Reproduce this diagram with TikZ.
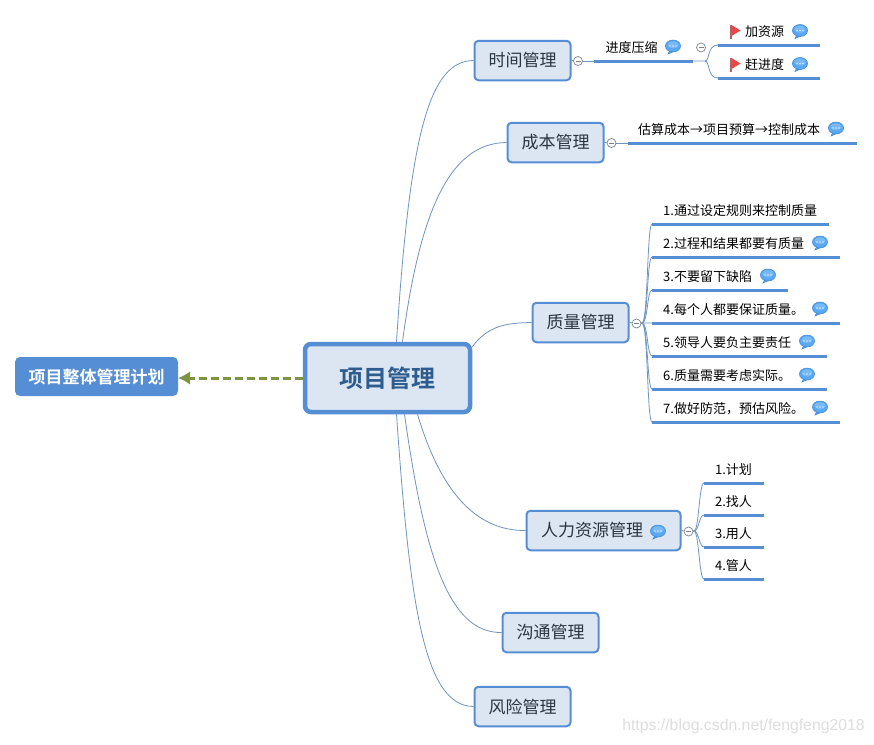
\documentclass[tikz,border=0pt]{standalone}
\usepackage{fontspec}
\setmainfont{Noto Sans CJK SC}[BoldFont={Noto Sans CJK SC Bold}]
\newfontfamily\wmfont{Liberation Sans}
\usetikzlibrary{arrows.meta,backgrounds}
\definecolor{boxfill}{HTML}{DCE6F2}
\definecolor{boxedge}{HTML}{558ED5}
\definecolor{linkc}{HTML}{6F94BE}
\definecolor{inkc}{HTML}{2A3542}
\definecolor{mainink}{HTML}{2F5C8F}
\definecolor{olivec}{HTML}{7F9440}
\definecolor{bubblec}{HTML}{58A8F2}
\definecolor{bubbleedge}{HTML}{3F86D2}
\definecolor{flagc}{HTML}{EE4444}
\tikzset{
  x=1pt,y=-1pt,
  topicbox/.style={draw=boxedge,fill=boxfill,line width=2pt,rounded corners=4pt,inner sep=0pt,
    minimum height=39.5pt,text=inkc,font=\fontsize{17}{20}\selectfont},
  mainbox/.style={draw=boxedge,fill=boxfill,line width=4.5pt,rounded corners=6pt,inner sep=0pt,
    minimum width=165pt,minimum height=68pt,text=mainink,font=\fontsize{24}{28}\selectfont\bfseries},
  planbox/.style={fill=boxedge,rounded corners=5pt,inner sep=0pt,minimum width=163pt,minimum height=39pt,
    text=white,font=\fontsize{17}{20}\selectfont\bfseries},
  leaf/.style={inner sep=0pt,text=black,font=\fontsize{13}{15}\selectfont},
  bar/.style={draw=boxedge,line width=3pt},
  link/.style={draw=linkc,line width=0.8pt},
  fold/.style={circle,draw=gray!75!linkc,fill=white,line width=0.7pt,inner sep=0pt,minimum size=9pt,
    path picture={\draw[gray,line width=0.6pt] ([xshift=-2.5pt]path picture bounding box.center)--([xshift=2.5pt]path picture bounding box.center);}},
  note/.pic={
    \fill[bubblec,draw=bubbleedge,line width=0.5pt] (-3,4) -- (-5,8) -- (1,5.4) -- cycle;
    \fill[bubblec,draw=bubbleedge,line width=0.5pt] (0,0) ellipse [x radius=7.6,y radius=6];
    \fill[bubblec!80!white] (0,-1.2) ellipse [x radius=5.6,y radius=3.6];
    \fill[white!70!bubblec] (-3,0) circle (0.9) (0,0) circle (0.9) (3,0) circle (0.9);
  },
  redflag/.pic={
    \draw[gray!60!flagc,line width=1.2pt] (0,0) -- (0,14);
    \fill[flagc] (0.5,0) -- (9.5,5.5) -- (0.5,11) -- cycle;
  }
}
\begin{document}
\begin{tikzpicture}
\useasboundingbox (0,0) rectangle (874,744);

% main nodes
\node[mainbox] (main) at (387.5,378) {项目管理};
\node[planbox] (plan) at (96.5,376.5) {项目整体管理计划};
\node[topicbox,minimum width=96pt] (time) at (522.5,60.5) {时间管理};
\node[topicbox,minimum width=96pt] (cost) at (555.5,142.5) {成本管理};
\node[topicbox,minimum width=96pt] (qual) at (580.5,322.5) {质量管理};
\node[topicbox,minimum width=154pt,text width=125pt,align=left] (hr) at (603.5,530.5) {人力资源管理};
\node[topicbox,minimum width=96pt] (comm) at (550.5,632.5) {沟通管理};
\node[topicbox,minimum width=96pt] (risk) at (522.5,706.5) {风险管理};

% root connectors
\begin{scope}[on background layer]
\fill[white] (0,0) rectangle (874,744);
\draw[link] ([xshift=9pt]main.north) .. controls (410,130) and (430,61) .. (time.west);
\draw[link] ([xshift=15pt]main.north) .. controls (420,210) and (450,143) .. (cost.west);
\draw[link] ([yshift=-5pt]main.north east) .. controls (488,326) and (505,323) .. (qual.west);
\draw[link] ([xshift=30pt]main.south) .. controls (440,490) and (475,531) .. (hr.west);
\draw[link] ([xshift=17pt]main.south) .. controls (425,560) and (450,633) .. (comm.west);
\draw[link] ([xshift=9pt]main.south) .. controls (410,610) and (425,706) .. (risk.west);
\end{scope}
\draw[olivec,line width=3pt,dash pattern=on 8pt off 4pt,-{Latex[length=12pt,width=14pt]}] (main.west) -- ([yshift=-1.5pt]plan.east);

% time branch
\node[fold] (ft) at (578,61) {};
\coordinate (ps) at (594,61);
\coordinate (pe) at (693,61);
\node[leaf] (pt) at (631.5,47.5) {进度压缩};
\pic at (673,46) {note};
\node[fold] (fp) at (701,47.5) {};
\draw[link] (time.east) -- (ft);
\draw[link] (ft) -- (ps);
\draw[bar] (ps) -- (pe);
\coordinate (a1) at (718,45);
\coordinate (a1e) at (820,45);
\coordinate (a2) at (718,78);
\coordinate (a2e) at (820,78);
\draw[link] (pe) -- (705,61) .. controls (710,61) and (707,45) .. (a1);
\draw[link] (705,61) .. controls (710,61) and (707,78) .. (a2);
\draw[bar] (a1) -- (a1e);
\draw[bar] (a2) -- (a2e);
\pic at (731,25) {redflag};
\pic at (731,58) {redflag};
\node[leaf] (t1) at (764.5,31.5) {加资源};
\node[leaf] (t2) at (764.5,64.5) {赶进度};
\pic at (800,30.5) {note};
\pic at (800,63.5) {note};

% cost branch
\node[fold] (fc) at (611.5,143) {};
\coordinate (cs) at (628,143);
\coordinate (ce) at (857,143);
\draw[link] (cost.east) -- (fc);
\draw[link] (fc) -- (cs);
\draw[bar] (cs) -- (ce);
\node[leaf,anchor=west] (ct) at (638,129.5) {估算成本→项目预算→控制成本};
\pic at (836,128) {note};

% quality branch
\node[fold] (fq) at (636.5,323.5) {};
\draw[link] (qual.east) -- (fq);
\coordinate (qf) at (642,323);
\foreach \i/\yy/\xe/\txt/\bx in {
  1/224/829/{1.通过设定规则来控制质量}/0,
  2/257/840/{2.过程和结果都要有质量}/820,
  3/290/788/{3.不要留下缺陷}/768,
  4/323/840/{4.每个人都要保证质量。}/820,
  5/356/827/{5.领导人要负主要责任}/807,
  6/389/827/{6.质量需要考虑实际。}/807,
  7/422/840/{7.做好防范，预估风险。}/820}{
  \coordinate (q\i s) at (652,\yy);
  \coordinate (q\i e) at (\xe,\yy);
  \draw[link] (fq.east) -- (qf) .. controls (648,323) and (647,\yy) .. (q\i s);
  \draw[bar] (q\i s) -- (q\i e);
  \node[leaf,anchor=west] (q\i) at (663,\yy-13.5) {\txt};
  \ifnum\bx>0 \pic at (\bx,\yy-15) {note}; \fi
}

% HR branch
\pic at (658,531) {note};
\node[fold] (fh) at (688.5,531.5) {};
\draw[link] (hr.east) -- (fh);
\coordinate (hf) at (694,531);
\foreach \i/\yy/\txt in {1/483/1.计划,2/515/2.找人,3/547/3.用人,4/579/4.管人}{
  \coordinate (h\i s) at (704,\yy);
  \coordinate (h\i e) at (764,\yy);
  \draw[link] (fh.east) -- (hf) .. controls (699,531) and (699,\yy) .. (h\i s);
  \draw[bar] (h\i s) -- (h\i e);
  \node[leaf] (h\i) at (733.5,\yy-13) {\txt};
}

% watermark
\node[inner sep=0pt,text=black!13,font=\wmfont\fontsize{15.8}{19}\selectfont] (wm) at (743.5,726) {https://blog.csdn.net/fengfeng2018};
\end{tikzpicture}
\end{document}
